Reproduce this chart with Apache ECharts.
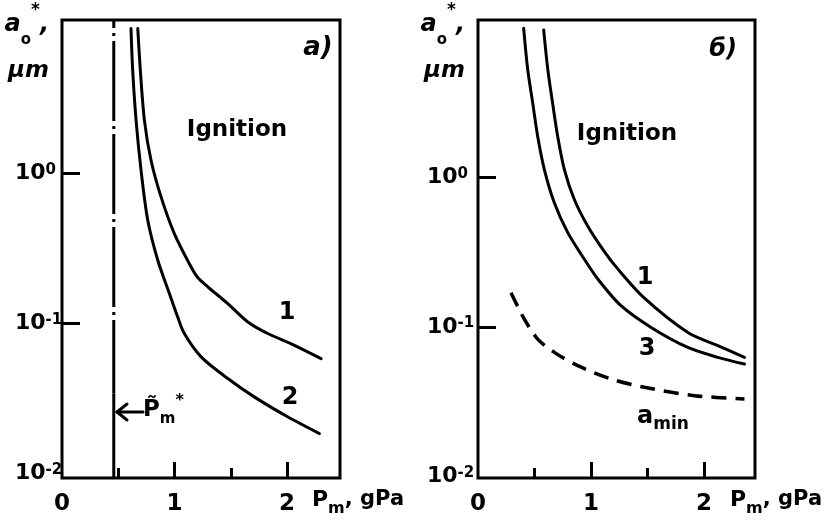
<!DOCTYPE html>
<html><head><meta charset="utf-8">
<script src="https://cdn.jsdelivr.net/npm/echarts@6/dist/echarts.min.js"></script>
<style>html,body{margin:0;padding:0;background:#fff}#c{width:824px;height:524px}</style>
</head><body><div id="c"></div>
<script>
// ---- data ----
const xTickValues = [0, 1, 2];
const xMajorTicks = [1, 2];
const xMinorTicks = [0.5, 1.5];
const yTickValues = [0.01, 0.1, 1];
const yTickExps = ['-2', '-1', '0'];
const yMajorTicks = [0.1, 1];

// panel a)
const aCurve1P = [0.673, 0.696, 0.732, 0.791, 0.880, 0.998, 1.147, 1.210, 1.295, 1.473, 1.651, 1.828, 2.065, 2.302];
const aCurve1A = [9.22, 4.86, 2.26, 1.22, 0.695, 0.396, 0.237, 0.200, 0.175, 0.135, 0.102, 0.0854, 0.0713, 0.0581];
const aCurve2P = [0.613, 0.628, 0.658, 0.702, 0.762, 0.851, 0.954, 1.028, 1.087, 1.236, 1.473, 1.708, 2.004, 2.287];
const aCurve2A = [9.22, 4.86, 2.26, 1.05, 0.486, 0.263, 0.158, 0.110, 0.0854, 0.0597, 0.0428, 0.0323, 0.0238, 0.0184];
const pStarP = 0.46;
const pStarDashA = [10.5, 0.034];
const pStarSolidA = [0.034, 0.0093];

// panel б)
const bCurve1P = [0.581, 0.617, 0.661, 0.705, 0.764, 0.852, 0.971, 1.118, 1.236, 1.472, 1.856, 2.121, 2.357];
const bCurve1A = [9.7, 5.3, 3.1, 1.88, 1.13, 0.713, 0.473, 0.320, 0.245, 0.156, 0.092, 0.0751, 0.0628];
const bCurve3P = [0.404, 0.440, 0.484, 0.528, 0.587, 0.675, 0.794, 0.941, 1.059, 1.265, 1.531, 1.856, 2.121, 2.357];
const bCurve3A = [9.95, 5.25, 3.15, 1.88, 1.13, 0.678, 0.428, 0.284, 0.210, 0.139, 0.0995, 0.0731, 0.0628, 0.0566];
const aMinP = [0.292, 0.410, 0.528, 0.675, 0.882, 1.177, 1.472, 1.914, 2.357];
const aMinA = [0.170, 0.113, 0.0832, 0.0678, 0.0552, 0.0450, 0.0396, 0.0348, 0.0331];

// ---- chart ----
const F = '"DejaVu Sans", sans-serif';
const K = '#000';
const chart = echarts.init(document.getElementById('c'), null, {renderer: 'canvas'});

const pairs = (P, A) => P.map((p, i) => [p, A[i]]);
const lineS = (xi, yi, data, extra) => Object.assign({
  type: 'line', xAxisIndex: xi, yAxisIndex: yi, data, symbol: 'none', showSymbol: false,
  smooth: 0.3, silent: true, animation: false, clip: true,
  lineStyle: {color: K, width: 3, cap: 'round', join: 'round'}
}, extra || {});

const xName = '{p|P}{m|m}{t|, gPa}';
const xNameRich = {
  p: {fontSize: 22, fontWeight: 'bold', fontFamily: F, color: K, lineHeight: 28, verticalAlign: 'top'},
  m: {fontSize: 16, fontWeight: 'bold', fontFamily: F, color: K, lineHeight: 20, verticalAlign: 'bottom'},
  t: {fontSize: 21, fontWeight: 'bold', fontFamily: F, color: K, lineHeight: 28, verticalAlign: 'top'}
};
const yName = '{a|a}{o|o}{st|*}{a|,}\n{u|μm}';
const yNameRich = {
  a: {fontSize: 24, fontWeight: 'bold', fontStyle: 'italic', fontFamily: F, color: K, lineHeight: 46},
  o: {fontSize: 15, fontWeight: 'bold', fontFamily: F, color: K, lineHeight: 28, verticalAlign: 'bottom'},
  st: {fontSize: 17, fontWeight: 'bold', fontFamily: F, color: K, lineHeight: 20, verticalAlign: 'top'},
  u: {fontSize: 23, fontWeight: 'bold', fontStyle: 'italic', fontFamily: F, color: K, lineHeight: 46}
};
const yLabRich = {
  b: {fontSize: 22, fontWeight: 'bold', fontFamily: F, color: K, lineHeight: 22, padding: [8, 0, 0, 0], verticalAlign: 'bottom'},
  s: {fontSize: 15, fontWeight: 'bold', fontFamily: F, color: K, lineHeight: 15, verticalAlign: 'top'}
};
const yFmt = v => {
  const i = yTickValues.findIndex(t => Math.abs(Math.log10(t) - Math.log10(v)) < 1e-6);
  return i < 0 ? '' : '{b|10}{s|' + yTickExps[i] + '}';
};

function xMain(gi, max, nameGap) {
  return {
    type: 'value', gridIndex: gi, min: 0, max,
    name: xName, nameLocation: 'end', nameGap, nameMoveOverlap: false,
    nameTextStyle: {align: 'left', verticalAlign: 'top', padding: [11, 0, 0, 0], rich: xNameRich},
    axisLine: {show: false},
    axisTick: {show: true, inside: true, length: 16, customValues: xMajorTicks, lineStyle: {color: K, width: 3}},
    axisLabel: {customValues: xTickValues, fontSize: 23, fontWeight: 'bold', fontFamily: F, color: K, margin: 15},
    splitLine: {show: false}
  };
}
function xMinor(gi, max) {
  return {
    type: 'value', gridIndex: gi, min: 0, max, position: 'bottom',
    axisLine: {show: false},
    axisTick: {show: true, inside: true, length: 10, customValues: xMinorTicks, lineStyle: {color: K, width: 3}},
    axisLabel: {show: false}, splitLine: {show: false}
  };
}
function yAx(gi, min, max, margin) {
  return {
    type: 'log', logBase: 10, gridIndex: gi, min, max,
    name: yName, nameLocation: 'end', nameGap: 18, nameMoveOverlap: false,
    nameTextStyle: {align: 'right', verticalAlign: 'top', padding: [0, 13, 0, 0], rich: yNameRich},
    axisLine: {show: false},
    axisTick: {show: true, inside: true, length: 18, customValues: yMajorTicks, lineStyle: {color: K, width: 3}},
    axisLabel: {customValues: yTickValues, formatter: yFmt, rich: yLabRich, align: 'left', margin},
    splitLine: {show: false}, minorTick: {show: false}
  };
}

const txt = (text, x, y, size, extra) => ({
  type: 'text', x, y, silent: true,
  style: Object.assign({text, fontSize: size, fontWeight: 'bold', fontFamily: F, fill: K, align: 'center', verticalAlign: 'middle'}, extra || {})
});

const option = {
  backgroundColor: '#fff',
  animation: false,
  grid: [
    {left: 62, top: 20, width: 278, height: 458, show: true, borderColor: K, borderWidth: 3, backgroundColor: 'transparent', outerBoundsMode: 'none'},
    {left: 478, top: 20, width: 277, height: 458, show: true, borderColor: K, borderWidth: 3, backgroundColor: 'transparent', outerBoundsMode: 'none'}
  ],
  xAxis: [xMain(0, 2.47, -28), xMinor(0, 2.47), xMain(1, 2.45, -25), xMinor(1, 2.45)],
  yAxis: [yAx(0, 0.0093, 10.5, 47), yAx(1, 0.0098, 11.3, 51)],
  series: [
    lineS(0, 0, pairs(aCurve1P, aCurve1A)),
    lineS(0, 0, pairs(aCurve2P, aCurve2A)),
    lineS(0, 0, pStarDashA.map(a => [pStarP, a]), {smooth: false, lineStyle: {color: K, width: 3, type: [80, 5, 3, 5], dashOffset: 72}}),
    lineS(0, 0, pStarSolidA.map(a => [pStarP, a]), {smooth: false, lineStyle: {color: K, width: 3}}),
    lineS(2, 1, pairs(bCurve1P, bCurve1A)),
    lineS(2, 1, pairs(bCurve3P, bCurve3A)),
    lineS(2, 1, pairs(aMinP, aMinA), {lineStyle: {color: K, width: 3.5, type: [15, 9], cap: 'butt'}})
  ],
  graphic: [
    txt('Ignition', 237, 130, 23),
    txt('Ignition', 627, 134, 23),
    txt('a)', 318, 48, 26, {fontStyle: 'italic'}),
    txt('б)', 723, 50, 24, {fontStyle: 'italic'}),
    txt('1', 287, 313, 24),
    txt('2', 290, 398, 24),
    txt('1', 645, 278, 24),
    txt('3', 647, 349, 24),
    {type: 'text', x: 637, y: 419, silent: true, style: {
      text: '{a|a}{s|min}', align: 'left', verticalAlign: 'middle',
      rich: {a: {fontSize: 24, fontWeight: 'bold', fontFamily: F, fill: K, lineHeight: 28, verticalAlign: 'top'},
             s: {fontSize: 17, fontWeight: 'bold', fontFamily: F, fill: K, lineHeight: 22, verticalAlign: 'bottom'}}
    }},
    {type: 'text', x: 143, y: 410, silent: true, style: {
      text: '{p|P̃}{m|m}{s|*}', align: 'left', verticalAlign: 'middle',
      rich: {p: {fontSize: 23, fontWeight: 'bold', fontFamily: F, fill: K, lineHeight: 34},
             m: {fontSize: 15, fontWeight: 'bold', fontFamily: F, fill: K, lineHeight: 18, verticalAlign: 'bottom'},
             s: {fontSize: 16, fontWeight: 'bold', fontFamily: F, fill: K, lineHeight: 18, verticalAlign: 'top'}}
    }},
    {type: 'polyline', silent: true, shape: {points: [[143, 412], [117, 412]]}, style: {stroke: K, lineWidth: 3, lineCap: 'round'}},
    {type: 'polyline', silent: true, shape: {points: [[127, 404], [117, 412], [127, 420]]}, style: {stroke: K, lineWidth: 3, fill: null, lineCap: 'round', lineJoin: 'round'}}
  ]
};
chart.setOption(option);
</script>
</body></html>
